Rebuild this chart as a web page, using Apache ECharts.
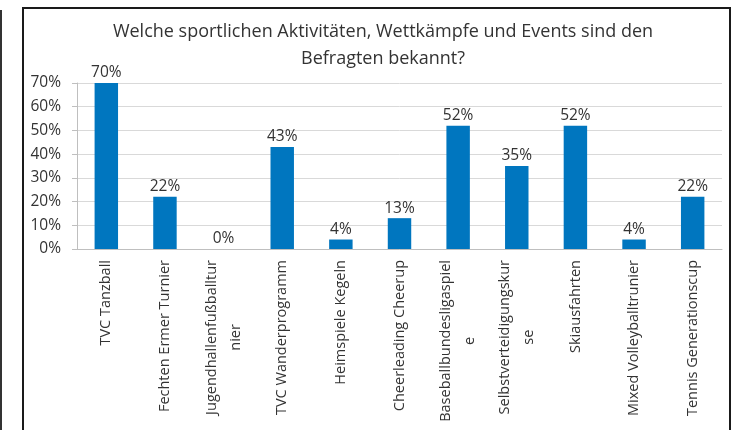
<!DOCTYPE html>
<html>
<head>
<meta charset="utf-8">
<script src="https://cdn.jsdelivr.net/npm/echarts@6/dist/echarts.min.js"></script>
<style>
  html, body { margin: 0; padding: 0; background: #fff; }
  #chart { width: 734px; height: 430px; }
</style>
</head>
<body>
<div id="chart"></div>
<script>
// categories (wrapped the way the original wraps them)
var categories = [
    'TVC Tanzball',
    'Fechten Ermer Turnier',
    'Jugendhallenfußballtur\n{c|nier}',
    'TVC Wanderprogramm',
    'Heimspiele Kegeln',
    'Cheerleading Cheerup',
    'Baseballbundesligaspiel\n{c|e}',
    'Selbstverteidigungskur\n{c|se}',
    'Skiausfahrten',
    'Mixed Volleyballtrunier',
    'Tennis Generationscup'
];
// share of respondents, percent
var values = [70, 22, 0, 43, 4, 13, 52, 35, 52, 4, 22];
var yTicks = [0, 10, 20, 30, 40, 50, 60, 70];

var titleText = 'Welche sportlichen Aktivitäten, Wettkämpfe und Events sind den\nBefragten bekannt?';
var fontName = '"Open Sans", "Noto Sans", sans-serif';
var textColor = '#333';

var myChart = echarts.init(document.getElementById('chart'));

var option = {
    backgroundColor: '#fff',
    animation: false,
    title: {
        text: titleText,
        left: 378,
        top: 13,
        textAlign: 'center',
        textStyle: {
            fontFamily: fontName,
            fontSize: 18,
            fontWeight: 'normal',
            color: textColor,
            lineHeight: 27,
            align: 'center'
        }
    },
    graphic: [
        // outer frame of the chart
        { type: 'rect', shape: { x: 23, y: 8, width: 707, height: 440 },
          style: { fill: 'none', stroke: '#1a1a1a', lineWidth: 2 }, silent: true },
        // page edge on the left
        { type: 'line', shape: { x1: 1, y1: 10, x2: 1, y2: 430 },
          style: { stroke: '#333', lineWidth: 2 }, silent: true }
    ],
    grid: { left: 77, right: 12, top: 83, bottom: 181 },
    xAxis: {
        type: 'category',
        data: categories,
        axisLine: { lineStyle: { color: '#bfbfbf' } },
        axisTick: { length: 5, lineStyle: { color: '#bfbfbf' } },
        axisLabel: {
            rotate: 90,
            interval: 0,
            margin: 11,
            fontFamily: fontName,
            fontSize: 14.5,
            color: textColor,
            lineHeight: 24,
            rich: { c: { align: 'center', fontFamily: fontName, fontSize: 14.5, color: textColor } }
        }
    },
    yAxis: {
        type: 'value',
        min: yTicks[0],
        max: yTicks[yTicks.length - 1],
        interval: 10,
        axisLine: { show: true, lineStyle: { color: '#bfbfbf' } },
        axisTick: { show: true, length: 5, lineStyle: { color: '#bfbfbf' } },
        axisLabel: {
            formatter: '{value}%',
            margin: 16,
            fontFamily: fontName,
            fontSize: 15.5,
            color: textColor
        },
        splitLine: { lineStyle: { color: '#d9d9d9' } }
    },
    series: [{
        type: 'bar',
        data: values,
        barWidth: '40%',
        itemStyle: { color: '#0076BF' },
        label: {
            show: true,
            position: 'top',
            distance: 2,
            formatter: '{c}%',
            fontFamily: fontName,
            fontSize: 15.5,
            color: textColor
        }
    }]
};

myChart.setOption(option);
</script>
</body>
</html>
